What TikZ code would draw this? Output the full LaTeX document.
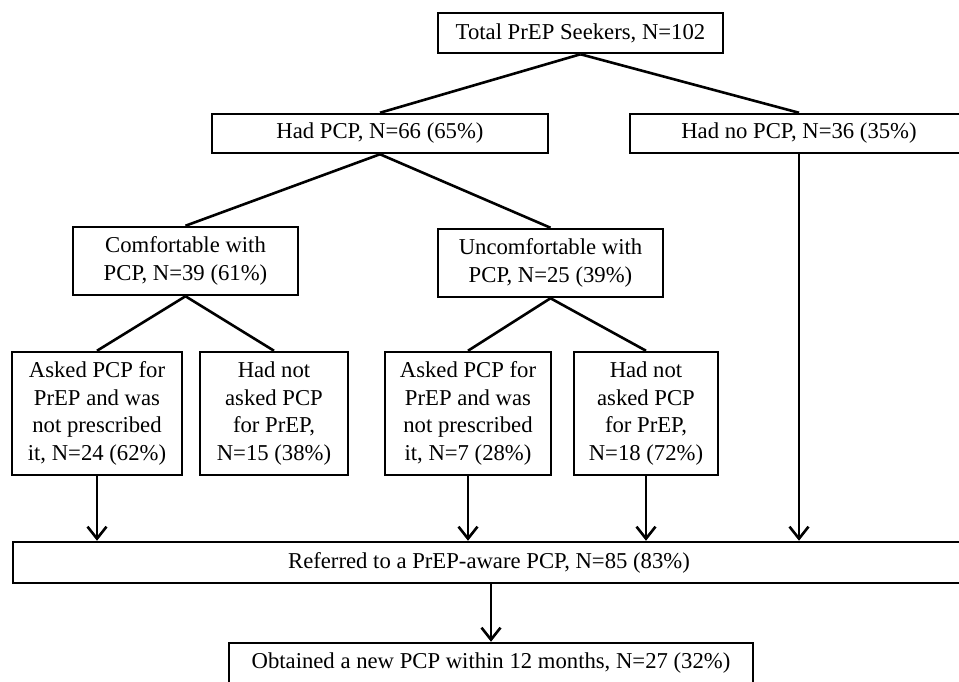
\documentclass[tikz,border=0pt]{standalone}
\usepackage{fontspec}
\setmainfont{Liberation Serif}
\usetikzlibrary{arrows.meta}
\tikzset{
  box/.style={draw=black, line width=1.25pt, fill=white, inner sep=0pt, align=center,
    font=\fontsize{11.35}{13.8}\selectfont},
  link/.style={line width=1.3pt},
  arr/.style={line width=1.3pt, -{Straight Barb[length=6pt,width=9.5pt,line width=1.3pt]}}
}
\begin{document}
\begin{tikzpicture}[x=0.5pt,y=-0.5pt]
\useasboundingbox (0,0) rectangle (959,681);
\clip (0,0) rectangle (959,681);
\fill[white] (0,0) rectangle (959,681);
\node[box, minimum width=142.5pt, minimum height=20pt] (top) at (580.5,33) {Total PrEP Seekers, N=102};
\node[box, minimum width=168pt, minimum height=19.5pt] (had) at (380,133.5) {Had PCP, N=66 (65\%)};
\node[box, minimum width=169pt, minimum height=19.5pt] (nopcp) at (799,133.5) {Had no PCP, N=36 (35\%)};
\node[box, minimum width=112.5pt, minimum height=34pt] (comf) at (185.5,261) {Comfortable with\\PCP, N=39 (61\%)};
\node[box, minimum width=112.5pt, minimum height=34pt] (uncomf) at (550.5,263) {Uncomfortable with\\PCP, N=25 (39\%)};
\node[box, minimum width=85pt, minimum height=61.5pt] (b1) at (97,413.5) {Asked PCP for\\PrEP and was\\not prescribed\\it, N=24 (62\%)};
\node[box, minimum width=74pt, minimum height=61.5pt] (b2) at (274,413.5) {Had not\\asked PCP\\for PrEP,\\N=15 (38\%)};
\node[box, minimum width=83pt, minimum height=61.5pt] (b3) at (468,413.5) {Asked PCP for\\PrEP and was\\not prescribed\\it, N=7 (28\%)};
\node[box, minimum width=72pt, minimum height=61.5pt] (b4) at (646,413.5) {Had not\\asked PCP\\for PrEP,\\N=18 (72\%)};
\node[box, minimum width=476pt, minimum height=20.5pt] (ref) at (489,562.5) {Referred to a PrEP-aware PCP, N=85 (83\%)};
\node[box, minimum width=262pt, minimum height=20.5pt] (obt) at (491,663.5) {Obtained a new PCP within 12 months, N=27 (32\%)};
\draw[link] (top.south) -- (had.north);
\draw[link] (top.south) -- (nopcp.north);
\draw[link] (had.south) -- (comf.north);
\draw[link] (had.south) -- (uncomf.north);
\draw[link] (comf.south) -- (b1.north);
\draw[link] (comf.south) -- (b2.north);
\draw[link] (uncomf.south) -- (b3.north);
\draw[link] (uncomf.south) -- (b4.north);
\draw[arr] (b1.south) -- (b1.south |- ref.north);
\draw[arr] (b3.south) -- (b3.south |- ref.north);
\draw[arr] (b4.south) -- (b4.south |- ref.north);
\draw[arr] (nopcp.south) -- (nopcp.south |- ref.north);
\draw[arr] (ref.south -| obt.north) -- (obt.north);
\end{tikzpicture}
\end{document}
